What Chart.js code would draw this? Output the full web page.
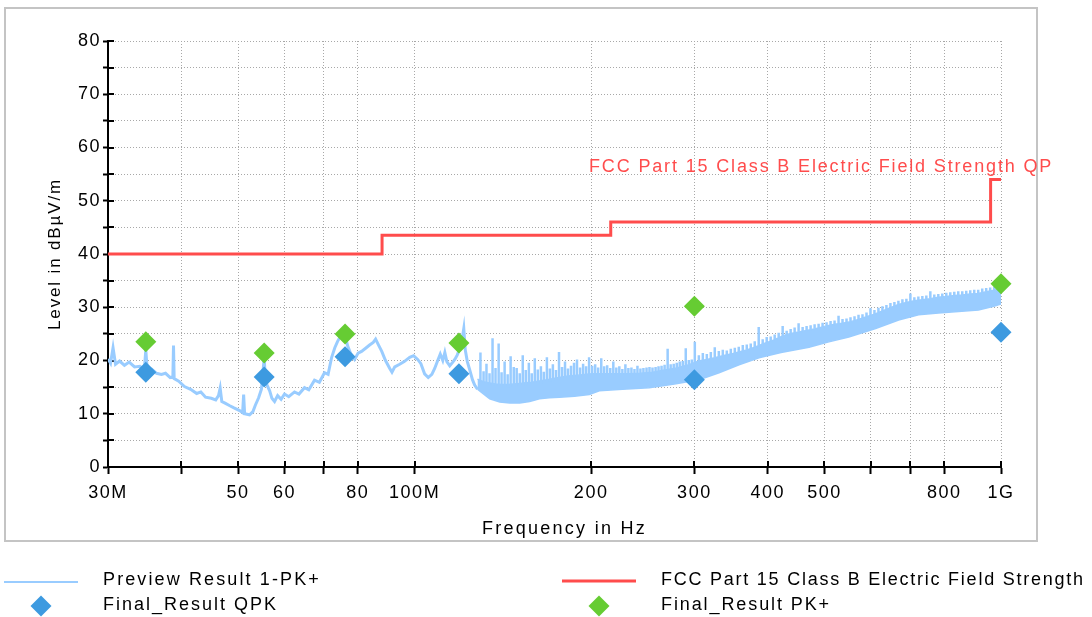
<!DOCTYPE html>
<html>
<head>
<meta charset="utf-8">
<script src="https://cdn.jsdelivr.net/npm/chart.js@4.4.1/dist/chart.umd.min.js"></script>
<style>
  html, body { margin: 0; padding: 0; background: #fff; }
  canvas { display: block; }
</style>
</head>
<body>
<canvas id="g1" width="1092" height="617"></canvas>
<script>
// achsen
var xTickVals = [30, 40, 50, 60, 70, 80, 100, 200, 300, 400, 500, 600, 700, 800, 1000];
var xTickLabels = ['30M', '', '50', '60', '', '80', '100M', '200', '300', '400', '500', '', '', '800', '1G'];

// preview trace (MHz / dBuV/m), einzelne linie bis ~128 MHz
var previewFreq = [30.0, 30.3, 30.6, 30.9, 31.4, 32.0, 32.6, 33.3, 34.0, 34.6, 34.8, 35.0, 35.6, 36.3, 37.0, 37.6, 38.3, 38.7, 38.8, 38.9,
  39.6, 40.5, 41.5, 42.5, 43.2, 44.0, 45.0, 45.8, 46.3, 46.6, 46.9, 47.5, 48.4, 49.2, 50.3, 50.9, 51.1, 51.3, 52.3, 53.0,
  53.5, 54.2, 54.8, 55.4, 55.6, 56.0, 56.6, 57.1, 57.7, 58.4, 59.2, 60.0, 61.0, 62.4, 63.5, 64.9, 66.0, 67.5, 68.8, 70.2,
  71.2, 72.2, 73.1, 73.9, 74.8, 75.4, 76.2, 76.9, 77.8, 79.0, 80.1, 81.2, 82.5, 83.8, 85.0, 85.8, 86.8, 87.9, 89.2, 90.7,
  91.5, 92.5, 94.3, 96.0, 98.1, 99.6, 101.2, 102.5, 104.0, 105.5, 107.0, 108.2, 109.5, 110.6, 111.7, 112.6, 113.5, 114.8, 116.0, 117.1,
  118.2, 119.4, 120.5, 121.3, 122.0, 123.0, 124.2, 125.5, 126.6, 128.0];
var previewLevel = [20.3, 19.5, 22.4, 19.3, 19.9, 19.1, 19.7, 18.8, 18.9, 18.3, 22.0, 18.2, 18.4, 17.6, 17.4, 17.6, 16.8, 16.9, 22.8, 16.6,
  16.1, 15.1, 14.6, 13.8, 14.1, 13.1, 12.9, 12.6, 13.4, 14.8, 12.3, 12.0, 11.5, 11.1, 10.6, 10.2, 13.6, 10.0, 9.8, 10.4,
  11.6, 13.0, 14.6, 20.5, 17.2, 15.4, 14.3, 12.9, 12.3, 13.4, 12.7, 13.7, 13.2, 14.1, 13.7, 14.9, 14.5, 16.3, 15.9, 17.7,
  17.4, 20.6, 22.4, 23.6, 24.6, 25.6, 24.4, 22.7, 21.3, 20.2, 21.4, 21.7, 22.3, 22.9, 23.4, 24.0, 22.9, 21.7, 20.0, 18.5,
  17.8, 18.8, 19.3, 19.8, 20.6, 20.9, 20.2, 19.4, 17.5, 16.8, 17.4, 18.5, 20.0, 21.2, 20.0, 21.5, 19.8, 19.0, 19.6, 20.2,
  21.0, 22.2, 24.0, 26.0, 22.0, 19.8, 18.2, 16.4, 15.4, 14.6];

// dichtes band ab ~128 MHz: obere kante (ohne spitzen)
var bandTopFreq = [128.0, 131.1, 134.2, 137.4, 140.7, 144.1, 147.6, 151.1, 154.7, 158.4, 162.2, 166.1, 170.1, 174.2, 178.4, 182.6,
  187.0, 191.5, 196.1, 200.8, 210.5, 220.8, 231.5, 242.7, 254.5, 266.9, 279.9, 293.5, 305.3, 315.0, 325.0, 335.4, 346.1, 357.1,
  368.5, 380.2, 392.3, 404.8, 417.7, 431.0, 444.7, 458.9, 473.5, 488.6, 504.1, 520.2, 536.7, 553.8, 571.5, 589.7, 608.4, 627.8,
  647.8, 668.4, 689.7, 711.6, 734.3, 757.7, 781.8, 806.7, 832.4, 858.9, 886.2, 914.4, 943.5, 973.6, 1000];
var bandTopLevel = [16.5, 16.0, 15.8, 15.6, 15.5, 15.5, 15.6, 15.7, 15.8, 15.9, 16.1, 16.3, 16.5, 16.7, 16.9, 17.1,
  17.2, 17.3, 17.4, 17.5, 17.5, 17.5, 17.5, 17.6, 17.8, 18.2, 18.6, 19.2, 19.9, 20.2, 20.5, 20.9, 21.2, 21.6,
  22.0, 22.5, 23.1, 23.6, 24.3, 24.9, 25.2, 25.5, 25.8, 26.1, 26.5, 26.8, 27.0, 27.3, 27.7, 28.2, 28.7, 29.3,
  29.9, 30.5, 30.9, 31.2, 31.4, 31.6, 31.9, 32.0, 32.2, 32.3, 32.5, 32.6, 32.9, 33.2, 33.6];

// untere kante vom band
var bandLowFreq = [128.0, 129.1, 134.3, 139.7, 145.3, 151.1, 157.1, 163.3, 169.8, 176.6, 187.3, 198.6, 206.5, 226.2, 251.3, 277.4,
  305.6, 330.5, 357.5, 386.6, 421.5, 470.5, 508.7, 550.1, 611.2, 669.0, 723.5, 782.5, 846.2, 915.2, 972.0, 1000];
var bandLowLevel = [14.6, 14.3, 12.8, 12.2, 12.0, 12.0, 12.3, 12.8, 13.0, 13.1, 13.3, 13.6, 14.3, 14.6, 14.9, 15.6,
  16.4, 17.7, 19.2, 20.5, 21.5, 22.5, 23.5, 24.4, 26.0, 27.6, 28.6, 28.9, 29.2, 29.5, 30.2, 30.6];

// spitzen ueber dem band: frequenz, fusspunkt, spitze
var spikeFreq = [129.5, 131.1, 132.6, 134.2, 135.8, 137.4, 139.1, 140.7, 142.4, 144.1, 145.8, 147.6, 149.3, 151.1, 152.9, 154.7,
  156.6, 158.4, 160.3, 162.2, 164.2, 166.1, 168.1, 170.1, 172.1, 174.2, 176.3, 178.4, 180.5, 182.6, 184.8, 187.0, 189.2, 191.5,
  193.8, 196.1, 198.4, 200.8, 203.2, 205.6, 208.1, 210.5, 213.0, 215.6, 218.2, 220.8, 223.4, 226.1, 228.8, 231.5, 234.3, 237.1,
  239.9, 242.7, 245.6, 248.6, 251.5, 254.5, 257.6, 260.6, 263.7, 266.9, 270.1, 273.3, 276.6, 279.9, 283.2, 286.6, 290.0, 293.5,
  297.0, 300.5,
  305.3, 310.1, 315.0, 320.0, 325.0, 330.2, 335.4, 340.7, 346.1, 351.6, 357.1, 362.8, 368.5, 374.3, 380.2, 386.2, 392.3, 398.5,
  404.8, 411.2, 417.7, 424.3, 431.0, 437.8, 444.7, 451.7, 458.9, 466.1, 473.5, 481.0, 488.6, 496.3, 504.1, 512.1, 520.2, 528.4,
  536.7, 545.2, 553.8, 562.6, 571.5, 580.5, 589.7, 599.0, 608.4, 618.0, 627.8, 637.7, 647.8, 658.0, 668.4, 679.0, 689.7, 700.6,
  711.6, 722.9, 734.3, 745.9, 757.7, 769.6, 781.8, 794.1, 806.7, 819.4, 832.4, 845.5, 858.9, 872.4, 886.2, 900.2, 914.4, 928.9,
  943.5, 958.4, 973.6, 989.0];
var spikeFoot = [16.2, 15.8, 15.6, 15.4, 15.3, 15.2, 15.1, 15.0, 15.0, 15.0, 15.0, 15.1, 15.1, 15.2, 15.2, 15.3,
  15.3, 15.4, 15.5, 15.6, 15.7, 15.8, 16.0, 16.1, 16.2, 16.4, 16.5, 16.7, 16.8, 16.9, 17.0, 17.1, 17.1, 17.2,
  17.2, 17.3, 17.3, 17.4, 17.4, 17.4, 17.4, 17.4, 17.4, 17.4, 17.4, 17.4, 17.4, 17.4, 17.4, 17.5, 17.5, 17.5,
  17.6, 17.6, 17.6, 17.7, 17.7, 17.8, 17.9, 18.0, 18.1, 18.2, 18.3, 18.4, 18.5, 18.6, 18.8, 18.9, 19.0, 19.2,
  19.4, 19.6,
  19.9, 20.0, 20.2, 20.3, 20.5, 20.7, 20.9, 21.0, 21.2, 21.4, 21.6, 21.8, 22.0, 22.2, 22.5, 22.8, 23.1, 23.3,
  23.6, 24.0, 24.3, 24.6, 24.9, 25.0, 25.2, 25.4, 25.5, 25.7, 25.8, 26.0, 26.1, 26.3, 26.5, 26.6, 26.8, 26.9,
  27.0, 27.2, 27.3, 27.5, 27.7, 27.9, 28.2, 28.4, 28.7, 29.0, 29.3, 29.6, 29.9, 30.2, 30.5, 30.7, 30.9, 31.0,
  31.2, 31.3, 31.4, 31.5, 31.6, 31.7, 31.9, 31.9, 32.0, 32.1, 32.2, 32.2, 32.3, 32.4, 32.5, 32.5, 32.6, 32.7,
  32.9, 33.0, 33.2, 33.4];
var spikeTop = [21.5, 18.0, 19.4, 17.6, 24.2, 18.6, 23.2, 17.8, 19.8, 17.4, 20.8, 18.8, 18.6, 17.6, 21.0, 18.2,
  19.6, 17.6, 20.4, 18.3, 18.9, 17.9, 20.6, 18.5, 19.3, 18.2, 21.6, 18.8, 19.8, 18.5, 19.0, 19.6, 20.2, 18.7,
  19.4, 18.9, 20.6, 19.0, 19.3, 18.7, 20.4, 18.9, 19.1, 18.6, 19.8, 18.7, 18.9, 18.4, 19.3, 18.6, 18.7, 18.4,
  19.0, 18.5, 18.6, 18.7, 18.8, 18.7, 18.8, 18.9, 19.0, 19.2, 22.2, 19.3, 19.4, 19.6, 19.8, 19.9, 22.3, 20.1,
  20.2, 23.5,
  21.0, 21.4, 21.2, 21.6, 22.5, 21.8, 22.0, 21.9, 22.2, 22.4, 22.6, 22.9, 23.0, 23.2, 23.6, 26.3, 24.0, 24.4,
  24.5, 24.9, 25.2, 26.5, 25.6, 25.9, 26.2, 27.0, 26.3, 26.5, 26.6, 26.8, 26.9, 27.1, 27.2, 27.4, 27.5, 28.4,
  27.8, 27.9, 28.1, 28.3, 28.6, 28.7, 29.0, 29.8, 29.5, 29.9, 30.2, 30.4, 30.8, 31.0, 31.2, 31.5, 31.6, 32.6,
  31.9, 32.0, 32.1, 32.2, 33.0, 32.4, 32.5, 32.6, 32.7, 32.8, 32.9, 33.0, 33.0, 33.1, 33.2, 33.3, 33.3, 33.5,
  33.6, 33.7, 33.9, 34.0];

// grenzwert FCC Part 15 Class B
var limitFreq = [30, 88, 88, 216, 216, 960, 960, 1000];
var limitLevel = [40, 40, 43.5, 43.5, 46, 46, 54, 54];

// final results
var finalFreq = [34.8, 55.4, 76.1, 119.0, 300.0, 1000];
var qpkLevel = [17.8, 16.9, 20.7, 17.5, 16.4, 25.3];
var pkLevel = [23.5, 21.4, 25.0, 23.3, 30.2, 34.4];

var blau = '#99ccff', rot = '#ff4c4c', qpkFarbe = '#3d9ae0', pkFarbe = '#66cc33';
var schrift = "'Liberation Sans', Arial, sans-serif";

function punkte(f, l) {
  return f.map(function(v, i) { return {x: v, y: l[i]}; });
}

// senkrechte striche, mit luecke dazwischen
var spikeDaten = [];
for (var i = 0; i < spikeFreq.length; i++) {
  spikeDaten.push({x: spikeFreq[i], y: spikeFoot[i]});
  spikeDaten.push({x: spikeFreq[i], y: spikeTop[i]});
  spikeDaten.push({x: spikeFreq[i], y: null});
}

// text mit sperrung auf zielbreite
function sperrText(c, txt, x, y, breite, size) {
  c.font = size + 'px ' + schrift;
  c.letterSpacing = '0px';
  var w = c.measureText(txt).width;
  var sp = (breite - w) / txt.length;
  c.letterSpacing = sp.toFixed(2) + 'px';
  c.fillText(txt, x, y);
  c.letterSpacing = '0px';
}

function raute(c, x, y, r, farbe) {
  c.fillStyle = farbe;
  c.beginPath();
  c.moveTo(x - r, y); c.lineTo(x, y - r); c.lineTo(x + r, y); c.lineTo(x, y + r);
  c.closePath(); c.fill();
}

var extras = {
  id: 'extras',
  beforeDraw: function(chart) {
    var c = chart.ctx;
    c.save();
    c.fillStyle = '#fff';
    c.fillRect(0, 0, chart.width, chart.height);
    c.strokeStyle = '#c4c4c4';
    c.lineWidth = 2;
    c.strokeRect(5, 8, 1032, 533);
    c.restore();
    c.letterSpacing = '1.5px';
  },
  beforeDatasetsDraw: function(chart) {
    // kleine ticks nach innen
    var c = chart.ctx, xs = chart.scales.x, ys = chart.scales.y, a = chart.chartArea;
    c.save();
    c.strokeStyle = '#000';
    c.lineWidth = 2;
    c.beginPath();
    xs.ticks.forEach(function(t) {
      var px = Math.round(xs.getPixelForValue(t.value));
      c.moveTo(px, a.bottom); c.lineTo(px, a.bottom - 6);
    });
    ys.ticks.forEach(function(t) {
      var py = Math.round(ys.getPixelForValue(t.value));
      c.moveTo(a.left, py); c.lineTo(a.left + 6, py);
    });
    c.stroke();
    c.restore();
  },
  afterDraw: function(chart) {
    var c = chart.ctx;
    c.save();
    c.textBaseline = 'middle';
    c.textAlign = 'left';

    // grenzwert beschriftung
    c.fillStyle = rot;
    sperrText(c, 'FCC Part 15 Class B Electric Field Strength QP', 589, 167, 464, 18);

    // achsentitel
    c.fillStyle = '#000';
    sperrText(c, 'Frequency in Hz', 482, 529, 165, 18);
    c.save();
    c.translate(55, 330);
    c.rotate(-Math.PI / 2);
    sperrText(c, 'Level in dB\u00b5V/m', 0, 0, 152, 17);
    c.restore();

    // legende
    c.lineWidth = 2;
    c.strokeStyle = blau;
    c.beginPath(); c.moveTo(4, 582); c.lineTo(78, 582); c.stroke();
    c.lineWidth = 3;
    c.strokeStyle = rot;
    c.beginPath(); c.moveTo(562, 581); c.lineTo(636, 581); c.stroke();
    raute(c, 41, 606, 10.5, qpkFarbe);
    raute(c, 599, 606, 10.5, pkFarbe);
    c.fillStyle = '#000';
    sperrText(c, 'Preview Result 1-PK+', 103, 580, 218, 18);
    sperrText(c, 'Final_Result QPK', 103, 605, 175, 18);
    sperrText(c, 'FCC Part 15 Class B Electric Field Strength', 661, 580, 424, 18);
    sperrText(c, 'Final_Result PK+', 661, 605, 170, 18);
    c.restore();
  }
};

var ctx = document.getElementById('g1');

var myChart = new Chart(ctx, {
  type: 'line',
  data: {
    datasets: [{
      label: 'Final_Result QPK',
      data: punkte(finalFreq, qpkLevel),
      showLine: false,
      pointStyle: 'rectRot',
      pointRadius: 10.5,
      pointBorderWidth: 0,
      pointBackgroundColor: qpkFarbe,
      pointBorderColor: qpkFarbe,
      clip: false,
      order: 0
    }, {
      label: 'Final_Result PK+',
      data: punkte(finalFreq, pkLevel),
      showLine: false,
      pointStyle: 'rectRot',
      pointRadius: 10.5,
      pointBorderWidth: 0,
      pointBackgroundColor: pkFarbe,
      pointBorderColor: pkFarbe,
      clip: false,
      order: 0
    }, {
      label: 'FCC Part 15 Class B Electric Field Strength',
      data: punkte(limitFreq, limitLevel),
      borderColor: rot,
      borderWidth: 3,
      pointRadius: 0,
      fill: false,
      order: 1
    }, {
      label: 'Preview Result 1-PK+',
      data: punkte(previewFreq, previewLevel),
      borderColor: blau,
      borderWidth: 3,
      pointRadius: 0,
      fill: false,
      order: 2
    }, {
      label: 'Preview spitzen',
      data: spikeDaten,
      borderColor: blau,
      borderWidth: 2.5,
      pointRadius: 0,
      fill: false,
      spanGaps: false,
      order: 2
    }, {
      label: 'Preview band oben',
      data: punkte(bandTopFreq, bandTopLevel),
      borderColor: blau,
      backgroundColor: blau,
      borderWidth: 1.5,
      pointRadius: 0,
      fill: '+1',
      order: 3
    }, {
      label: 'Preview band unten',
      data: punkte(bandLowFreq, bandLowLevel),
      borderColor: blau,
      borderWidth: 1.5,
      pointRadius: 0,
      fill: false,
      order: 4
    }]
  },
  options: {
    responsive: false,
    animation: false,
    devicePixelRatio: 1,
    layout: { padding: { top: 41, right: 91, left: 0, bottom: 0 } },
    plugins: {
      legend: { display: false },
      tooltip: { enabled: false }
    },
    elements: { line: { tension: 0 } },
    scales: {
      x: {
        type: 'logarithmic',
        min: 30,
        max: 1000,
        afterBuildTicks: function(scale) {
          scale.ticks = xTickVals.map(function(v) { return {value: v}; });
        },
        afterFit: function(scale) { scale.height = 150; },
        ticks: {
          autoSkip: false,
          maxRotation: 0,
          padding: 8,
          color: '#000',
          font: { family: schrift, size: 18 },
          callback: function(v, i) { return xTickLabels[i]; }
        },
        grid: {
          color: '#a8a8a8',
          lineWidth: 1,
          tickLength: 7,
          tickColor: '#000',
          tickWidth: 2
        },
        border: { display: true, color: '#000', width: 2, dash: [1, 2] }
      },
      y: {
        min: 0,
        max: 80,
        afterFit: function(scale) { scale.width = 108; },
        ticks: {
          stepSize: 5,
          autoSkip: false,
          padding: 2,
          color: '#000',
          font: { family: schrift, size: 18 },
          callback: function(v) { return v % 10 === 0 ? String(v) : ''; }
        },
        grid: {
          color: '#a8a8a8',
          lineWidth: 1,
          tickLength: 5,
          tickColor: '#000',
          tickWidth: 2
        },
        border: { display: true, color: '#000', width: 2, dash: [1, 2] }
      }
    }
  },
  plugins: [extras]
});
</script>
</body>
</html>
